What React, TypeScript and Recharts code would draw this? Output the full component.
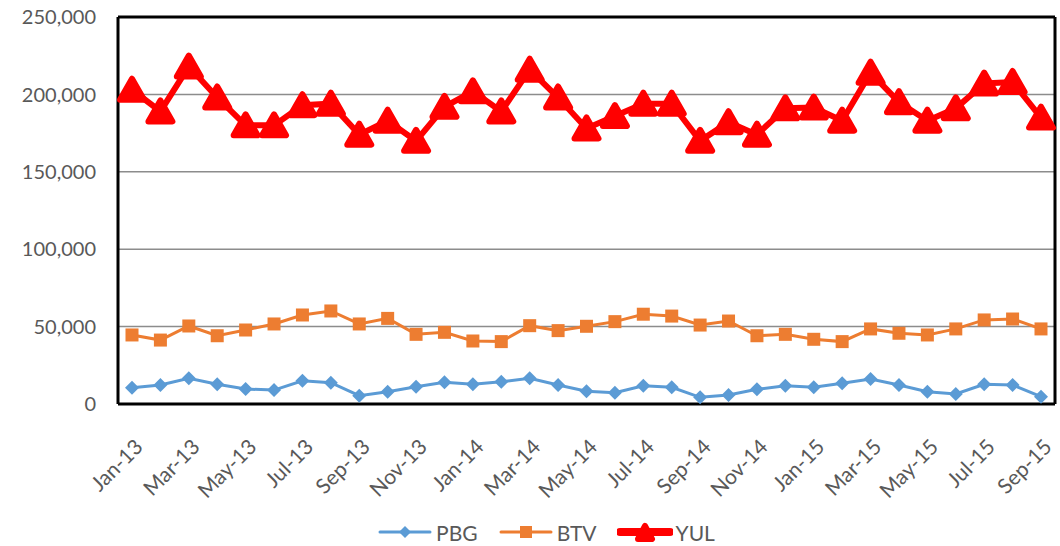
import React from 'react';
import { LineChart, Line, XAxis, YAxis, CartesianGrid, Legend } from 'recharts';

const months = [
  'Jan-13', 'Feb-13', 'Mar-13', 'Apr-13', 'May-13', 'Jun-13', 'Jul-13', 'Aug-13', 'Sep-13', 'Oct-13', 'Nov-13', 'Dec-13',
  'Jan-14', 'Feb-14', 'Mar-14', 'Apr-14', 'May-14', 'Jun-14', 'Jul-14', 'Aug-14', 'Sep-14', 'Oct-14', 'Nov-14', 'Dec-14',
  'Jan-15', 'Feb-15', 'Mar-15', 'Apr-15', 'May-15', 'Jun-15', 'Jul-15', 'Aug-15', 'Sep-15',
];

const pbg = [
  10500, 12300, 16600, 12700, 9700, 9000, 15000, 13800, 5400, 7900, 11200, 14000,
  12700, 14400, 16600, 12300, 8200, 7300, 11800, 10800, 4300, 5800, 9500, 11800,
  10800, 13400, 16200, 12300, 7900, 6500, 12700, 12300, 4700,
];

const btv = [
  44600, 41300, 50400, 44100, 47800, 51700, 57500, 60100, 51700, 55300, 45000, 46300,
  40700, 40300, 50600, 47400, 50200, 53200, 58000, 56800, 51000, 53600, 44100, 45000,
  41800, 40300, 48500, 45700, 44600, 48500, 54300, 54900, 48500,
];

const yul = [
  203000, 189000, 218000, 198000, 180000, 180000, 193000, 194000, 174000, 183000, 170000, 192000,
  202000, 189000, 216000, 198000, 178000, 186000, 194000, 194000, 170000, 182000, 174000, 191000,
  191500, 183000, 214000, 195000, 183000, 191000, 207000, 208000, 185000,
];

const yTicks = [0, 50000, 100000, 150000, 200000, 250000];

const data = months.map((month, i) => ({ month, PBG: pbg[i], BTV: btv[i], YUL: yul[i] }));

const FONT = 'Lato, "Liberation Sans", sans-serif';
const TEXT = '#595959';
const BLUE = '#5B9BD5';
const ORANGE = '#ED7D31';
const RED = '#FF0000';
const PAD = { left: 14, right: 14 };
const BORDER = { stroke: '#000', strokeWidth: 3 };

const MonthTick = (props: any) => {
  const { x, y, payload } = props;
  return (
    <g transform={`translate(${x + 7},${y + 31}) rotate(-45)`}>
      <text x={0} y={0} dy="0.35em" textAnchor="end" fill={TEXT} fontSize={21} fontFamily={FONT}>
        {payload.value}
      </text>
    </g>
  );
};

const Diamond = ({ cx, cy, size = 7 }: any) => (
  <path d={`M${cx},${cy - size} L${cx + size},${cy} L${cx},${cy + size} L${cx - size},${cy} Z`} fill={BLUE} />
);

const Square = ({ cx, cy, size = 13 }: any) => (
  <rect x={cx - size / 2} y={cy - size / 2} width={size} height={size} fill={ORANGE} />
);

const Triangle = ({ cx, cy, h = 11, w = 12 }: any) => (
  <path
    d={`M${cx},${cy - h} L${cx + w},${cy + h - 1} L${cx - w},${cy + h - 1} Z`}
    fill={RED}
    stroke={RED}
    strokeWidth={6}
    strokeLinejoin="round"
  />
);

const renderDot = (Shape: any) => (props: any) => {
  const { cx, cy, index } = props;
  if (cx == null || cy == null) return <g key={index} />;
  return <Shape key={index} cx={cx} cy={cy} />;
};

const LegendContent = () => {
  const items = [
    { name: 'PBG', color: BLUE, width: 3 },
    { name: 'BTV', color: ORANGE, width: 3 },
    { name: 'YUL', color: RED, width: 8 },
  ];
  return (
    <div style={{ display: 'flex', justifyContent: 'center', gap: 20, fontFamily: FONT, fontSize: 21, color: TEXT, paddingLeft: 36, paddingTop: 3 }}>
      {items.map(({ name, color, width }) => (
        <div key={name} style={{ display: 'flex', alignItems: 'center', gap: 3 }}>
          <svg width={56} height={26}>
            <line x1={3} y1={13} x2={53} y2={13} stroke={color} strokeWidth={width} strokeLinecap="round" />
            {name === 'PBG' && <Diamond cx={28} cy={13} size={6} />}
            {name === 'BTV' && <Square cx={28} cy={13} size={12} />}
            {name === 'YUL' && <Triangle cx={28} cy={14} h={7} w={7} />}
          </svg>
          <span>{name}</span>
        </div>
      ))}
    </div>
  );
};

export default function App() {
  return (
    <div style={{ position: 'absolute', left: 0, top: 0, width: 1060, height: 546, background: '#fff' }}>
      <LineChart width={1060} height={546} data={data} margin={{ top: 16, right: 4, left: 0, bottom: 0 }}>
        <CartesianGrid vertical={false} stroke="#8c8c8c" strokeWidth={1.5} />
        <XAxis
          dataKey="month"
          interval={1}
          padding={PAD}
          tickLine={false}
          axisLine={BORDER}
          tick={<MonthTick />}
          height={112}
        />
        <XAxis xAxisId="top" orientation="top" dataKey="month" padding={PAD} tick={false} tickLine={false} height={1} axisLine={BORDER} />
        <YAxis
          domain={[0, 250000]}
          ticks={yTicks}
          tickFormatter={(v: number) => v.toLocaleString('en-US')}
          tickLine={false}
          tickSize={0}
          tickMargin={22}
          width={118}
          axisLine={BORDER}
          tick={{ fill: TEXT, fontSize: 20, fontFamily: FONT }}
        />
        <YAxis yAxisId="right" orientation="right" domain={[0, 250000]} ticks={yTicks} tick={false} tickLine={false} width={1} axisLine={BORDER} />
        <Legend verticalAlign="bottom" height={30} content={<LegendContent />} />
        {/* invisible series so the top and right frame axes get drawn */}
        <Line xAxisId="top" yAxisId="right" dataKey="YUL" stroke="none" dot={false} activeDot={false} isAnimationActive={false} />
        <Line dataKey="PBG" stroke={BLUE} strokeWidth={3} dot={renderDot(Diamond)} activeDot={false} isAnimationActive={false} />
        <Line dataKey="BTV" stroke={ORANGE} strokeWidth={3} dot={renderDot(Square)} activeDot={false} isAnimationActive={false} />
        <Line dataKey="YUL" stroke={RED} strokeWidth={6} dot={renderDot(Triangle)} activeDot={false} isAnimationActive={false} />
      </LineChart>
    </div>
  );
}
